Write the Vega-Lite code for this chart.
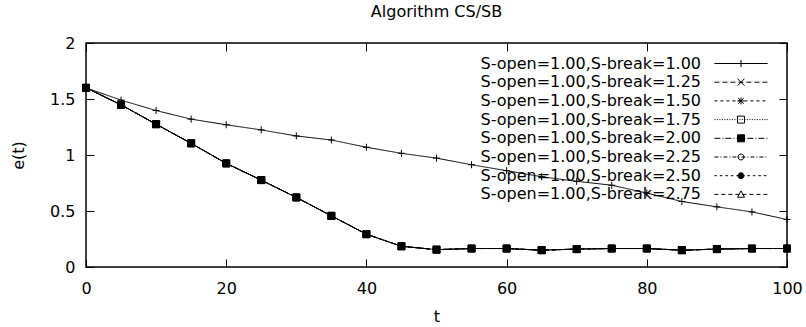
{
  "$schema": "https://vega.github.io/schema/vega-lite/v6.json",
  "width": 701,
  "height": 224,
  "autosize": {"type": "none"},
  "padding": {"left": 86, "top": 43, "right": 19, "bottom": 60},
  "background": "white",
  "title": {"text": "Algorithm CS/SB", "fontSize": 16, "fontWeight": "normal", "font": "DejaVu Sans", "baseline": "alphabetic", "offset": 2, "color": "black"},
  "config": {
    "view": {"stroke": "black", "strokeWidth": 1.5},
    "font": "DejaVu Sans",
    "axis": {"domain": false, "grid": false, "minExtent": 0, "tickColor": "black", "tickSize": -8, "tickWidth": 1, "labelColor": "black", "labelFont": "DejaVu Sans", "labelFontSize": 16, "titleFont": "DejaVu Sans", "titleFontSize": 16, "titleFontWeight": "normal", "titleColor": "black", "labelFlush": false, "labelOverlap": false}
  },
  "data": {"values": [
    {"t":0,"e":1.6,"s":"1.00"},{"t":5,"e":1.49,"s":"1.00"},{"t":10,"e":1.397,"s":"1.00"},{"t":15,"e":1.32,"s":"1.00"},{"t":20,"e":1.27,"s":"1.00"},{"t":25,"e":1.224,"s":"1.00"},{"t":30,"e":1.17,"s":"1.00"},{"t":35,"e":1.134,"s":"1.00"},{"t":40,"e":1.069,"s":"1.00"},{"t":45,"e":1.015,"s":"1.00"},{"t":50,"e":0.972,"s":"1.00"},{"t":55,"e":0.913,"s":"1.00"},{"t":60,"e":0.86,"s":"1.00"},{"t":65,"e":0.806,"s":"1.00"},{"t":70,"e":0.765,"s":"1.00"},{"t":75,"e":0.73,"s":"1.00"},{"t":80,"e":0.66,"s":"1.00"},{"t":85,"e":0.585,"s":"1.00"},{"t":90,"e":0.537,"s":"1.00"},{"t":95,"e":0.492,"s":"1.00"},{"t":100,"e":0.424,"s":"1.00"},
    {"t":0,"e":1.6,"s":"1.25"},{"t":5,"e":1.448,"s":"1.25"},{"t":10,"e":1.275,"s":"1.25"},{"t":15,"e":1.104,"s":"1.25"},{"t":20,"e":0.925,"s":"1.25"},{"t":25,"e":0.776,"s":"1.25"},{"t":30,"e":0.621,"s":"1.25"},{"t":35,"e":0.457,"s":"1.25"},{"t":40,"e":0.293,"s":"1.25"},{"t":45,"e":0.185,"s":"1.25"},{"t":50,"e":0.155,"s":"1.25"},{"t":55,"e":0.165,"s":"1.25"},{"t":60,"e":0.165,"s":"1.25"},{"t":65,"e":0.15,"s":"1.25"},{"t":70,"e":0.16,"s":"1.25"},{"t":75,"e":0.165,"s":"1.25"},{"t":80,"e":0.165,"s":"1.25"},{"t":85,"e":0.15,"s":"1.25"},{"t":90,"e":0.16,"s":"1.25"},{"t":95,"e":0.165,"s":"1.25"},{"t":100,"e":0.165,"s":"1.25"},
    {"t":0,"e":1.6,"s":"1.50"},{"t":5,"e":1.448,"s":"1.50"},{"t":10,"e":1.275,"s":"1.50"},{"t":15,"e":1.104,"s":"1.50"},{"t":20,"e":0.925,"s":"1.50"},{"t":25,"e":0.776,"s":"1.50"},{"t":30,"e":0.621,"s":"1.50"},{"t":35,"e":0.457,"s":"1.50"},{"t":40,"e":0.293,"s":"1.50"},{"t":45,"e":0.185,"s":"1.50"},{"t":50,"e":0.155,"s":"1.50"},{"t":55,"e":0.165,"s":"1.50"},{"t":60,"e":0.165,"s":"1.50"},{"t":65,"e":0.15,"s":"1.50"},{"t":70,"e":0.16,"s":"1.50"},{"t":75,"e":0.165,"s":"1.50"},{"t":80,"e":0.165,"s":"1.50"},{"t":85,"e":0.15,"s":"1.50"},{"t":90,"e":0.16,"s":"1.50"},{"t":95,"e":0.165,"s":"1.50"},{"t":100,"e":0.165,"s":"1.50"},
    {"t":0,"e":1.6,"s":"1.75"},{"t":5,"e":1.448,"s":"1.75"},{"t":10,"e":1.275,"s":"1.75"},{"t":15,"e":1.104,"s":"1.75"},{"t":20,"e":0.925,"s":"1.75"},{"t":25,"e":0.776,"s":"1.75"},{"t":30,"e":0.621,"s":"1.75"},{"t":35,"e":0.457,"s":"1.75"},{"t":40,"e":0.293,"s":"1.75"},{"t":45,"e":0.185,"s":"1.75"},{"t":50,"e":0.155,"s":"1.75"},{"t":55,"e":0.165,"s":"1.75"},{"t":60,"e":0.165,"s":"1.75"},{"t":65,"e":0.15,"s":"1.75"},{"t":70,"e":0.16,"s":"1.75"},{"t":75,"e":0.165,"s":"1.75"},{"t":80,"e":0.165,"s":"1.75"},{"t":85,"e":0.15,"s":"1.75"},{"t":90,"e":0.16,"s":"1.75"},{"t":95,"e":0.165,"s":"1.75"},{"t":100,"e":0.165,"s":"1.75"},
    {"t":0,"e":1.6,"s":"2.00"},{"t":5,"e":1.448,"s":"2.00"},{"t":10,"e":1.275,"s":"2.00"},{"t":15,"e":1.104,"s":"2.00"},{"t":20,"e":0.925,"s":"2.00"},{"t":25,"e":0.776,"s":"2.00"},{"t":30,"e":0.621,"s":"2.00"},{"t":35,"e":0.457,"s":"2.00"},{"t":40,"e":0.293,"s":"2.00"},{"t":45,"e":0.185,"s":"2.00"},{"t":50,"e":0.155,"s":"2.00"},{"t":55,"e":0.165,"s":"2.00"},{"t":60,"e":0.165,"s":"2.00"},{"t":65,"e":0.15,"s":"2.00"},{"t":70,"e":0.16,"s":"2.00"},{"t":75,"e":0.165,"s":"2.00"},{"t":80,"e":0.165,"s":"2.00"},{"t":85,"e":0.15,"s":"2.00"},{"t":90,"e":0.16,"s":"2.00"},{"t":95,"e":0.165,"s":"2.00"},{"t":100,"e":0.165,"s":"2.00"},
    {"t":0,"e":1.6,"s":"2.25"},{"t":5,"e":1.448,"s":"2.25"},{"t":10,"e":1.275,"s":"2.25"},{"t":15,"e":1.104,"s":"2.25"},{"t":20,"e":0.925,"s":"2.25"},{"t":25,"e":0.776,"s":"2.25"},{"t":30,"e":0.621,"s":"2.25"},{"t":35,"e":0.457,"s":"2.25"},{"t":40,"e":0.293,"s":"2.25"},{"t":45,"e":0.185,"s":"2.25"},{"t":50,"e":0.155,"s":"2.25"},{"t":55,"e":0.165,"s":"2.25"},{"t":60,"e":0.165,"s":"2.25"},{"t":65,"e":0.15,"s":"2.25"},{"t":70,"e":0.16,"s":"2.25"},{"t":75,"e":0.165,"s":"2.25"},{"t":80,"e":0.165,"s":"2.25"},{"t":85,"e":0.15,"s":"2.25"},{"t":90,"e":0.16,"s":"2.25"},{"t":95,"e":0.165,"s":"2.25"},{"t":100,"e":0.165,"s":"2.25"},
    {"t":0,"e":1.6,"s":"2.50"},{"t":5,"e":1.448,"s":"2.50"},{"t":10,"e":1.275,"s":"2.50"},{"t":15,"e":1.104,"s":"2.50"},{"t":20,"e":0.925,"s":"2.50"},{"t":25,"e":0.776,"s":"2.50"},{"t":30,"e":0.621,"s":"2.50"},{"t":35,"e":0.457,"s":"2.50"},{"t":40,"e":0.293,"s":"2.50"},{"t":45,"e":0.185,"s":"2.50"},{"t":50,"e":0.155,"s":"2.50"},{"t":55,"e":0.165,"s":"2.50"},{"t":60,"e":0.165,"s":"2.50"},{"t":65,"e":0.15,"s":"2.50"},{"t":70,"e":0.16,"s":"2.50"},{"t":75,"e":0.165,"s":"2.50"},{"t":80,"e":0.165,"s":"2.50"},{"t":85,"e":0.15,"s":"2.50"},{"t":90,"e":0.16,"s":"2.50"},{"t":95,"e":0.165,"s":"2.50"},{"t":100,"e":0.165,"s":"2.50"},
    {"t":0,"e":1.6,"s":"2.75"},{"t":5,"e":1.448,"s":"2.75"},{"t":10,"e":1.275,"s":"2.75"},{"t":15,"e":1.104,"s":"2.75"},{"t":20,"e":0.925,"s":"2.75"},{"t":25,"e":0.776,"s":"2.75"},{"t":30,"e":0.621,"s":"2.75"},{"t":35,"e":0.457,"s":"2.75"},{"t":40,"e":0.293,"s":"2.75"},{"t":45,"e":0.185,"s":"2.75"},{"t":50,"e":0.155,"s":"2.75"},{"t":55,"e":0.165,"s":"2.75"},{"t":60,"e":0.165,"s":"2.75"},{"t":65,"e":0.15,"s":"2.75"},{"t":70,"e":0.16,"s":"2.75"},{"t":75,"e":0.165,"s":"2.75"},{"t":80,"e":0.165,"s":"2.75"},{"t":85,"e":0.15,"s":"2.75"},{"t":90,"e":0.16,"s":"2.75"},{"t":95,"e":0.165,"s":"2.75"},{"t":100,"e":0.165,"s":"2.75"}
  ]},
  "layer": [
    {
      "layer": [
        {
          "mark": {"type": "line", "color": "black", "strokeWidth": 1},
          "encoding": {
            "x": {"field": "t", "type": "quantitative", "scale": {"domain": [0, 100], "nice": false, "zero": false}, "axis": {"orient": "bottom", "title": "t", "values": [0, 20, 40, 60, 80, 100], "labelPadding": 21, "titlePadding": 12}},
            "y": {"field": "e", "type": "quantitative", "scale": {"domain": [0, 2], "nice": false}, "axis": {"orient": "left", "title": "e(t)", "values": [0, 0.5, 1, 1.5, 2], "format": "~g", "labelPadding": 19, "titlePadding": 26, "titleBaseline": "alphabetic"}},
            "strokeDash": {"field": "s", "type": "nominal", "legend": null, "scale": {"range": [[1, 0], [5, 3], [3, 3], [1, 1.5], [6, 2, 1, 2], [4, 2, 1, 2], [2.5, 3], [4, 3]]}}
          }
        },
        {
          "mark": {"type": "point", "filled": true, "stroke": "black", "strokeWidth": 1, "size": 49, "opacity": 1},
          "encoding": {
            "x": {"field": "t", "type": "quantitative"},
            "y": {"field": "e", "type": "quantitative"},
            "fill": {"field": "s", "type": "nominal", "legend": null, "scale": {"range": ["transparent", "transparent", "transparent", "transparent", "black", "transparent", "black", "transparent"]}},
            "shape": {
              "field": "s", "type": "nominal", "legend": null,
              "scale": {"range": ["M-1,0H1M0,-1V1", "M-1,-1L1,1M-1,1L1,-1", "M-1,0H1M0,-1V1M-0.8,-0.8L0.8,0.8M-0.8,0.8L0.8,-0.8", "M-1,-1H1V1H-1Z", "M-1,-1H1V1H-1Z", "M0.85,0A0.85,0.85,0,1,1,-0.85,0A0.85,0.85,0,1,1,0.85,0Z", "M0.85,0A0.85,0.85,0,1,1,-0.85,0A0.85,0.85,0,1,1,0.85,0Z", "M0,-1L1,0.8H-1Z"]}
            }
          }
        },
        {
          "mark": {"type": "point", "filled": false, "color": "black", "opacity": 0},
          "encoding": {
            "x": {"field": "t", "type": "quantitative"},
            "y": {"field": "e", "type": "quantitative"},
            "shape": {
              "field": "s", "type": "nominal",
              "scale": {"range": [
                "M-7.6,0H7.6M-1,0H1M0,-1V1",
                "M-7.6,0h1.43M-5.31,0h1.43M-3.03,0h1.43M-0.74,0h1.43M1.54,0h1.43M3.83,0h1.43M6.11,0h1.43M-1,-1L1,1M-1,1L1,-1",
                "M-7.6,0h0.86M-5.89,0h0.86M-4.17,0h0.86M-2.46,0h0.86M-0.74,0h0.86M0.97,0h0.86M2.69,0h0.86M4.4,0h0.86M6.11,0h0.86M-1,0H1M0,-1V1M-0.8,-0.8L0.8,0.8M-0.8,0.8L0.8,-0.8",
                "M-7.6,0h0.29M-6.89,0h0.29M-6.17,0h0.29M-5.46,0h0.29M-4.74,0h0.29M-4.03,0h0.29M-3.31,0h0.29M-2.6,0h0.29M-1.89,0h0.29M-1.17,0h0.29M-0.46,0h0.29M0.26,0h0.29M0.97,0h0.29M1.69,0h0.29M2.4,0h0.29M3.11,0h0.29M3.83,0h0.29M4.54,0h0.29M5.26,0h0.29M5.97,0h0.29M6.69,0h0.29M7.31,0h0.29M-1,-1H1V1H-1Z",
                "M-7.6,0h1.71M-4.46,0h1.71M-1.31,0h1.71M1.83,0h1.71M4.97,0h1.71M-5.31,0h0.29M-2.17,0h0.29M0.97,0h0.29M4.11,0h0.29M7.26,0h0.29M-1,-1H1V1H-1Z",
                "M-7.6,0h1.14M-5.03,0h1.14M-2.46,0h1.14M0.11,0h1.14M2.69,0h1.14M5.26,0h1.14M-5.89,0h0.29M-3.31,0h0.29M-0.74,0h0.29M1.83,0h0.29M4.4,0h0.29M6.97,0h0.29M0.85,0A0.85,0.85,0,1,1,-0.85,0A0.85,0.85,0,1,1,0.85,0Z",
                "M-7.6,0h0.71M-6.03,0h0.71M-4.46,0h0.71M-2.89,0h0.71M-1.31,0h0.71M0.26,0h0.71M1.83,0h0.71M3.4,0h0.71M4.97,0h0.71M6.54,0h0.71M0.85,0A0.85,0.85,0,1,1,-0.85,0A0.85,0.85,0,1,1,0.85,0Z",
                "M-7.6,0h1.14M-5.6,0h1.14M-3.6,0h1.14M-1.6,0h1.14M0.4,0h1.14M2.4,0h1.14M4.4,0h1.14M6.4,0h1.14M0,-1L1,0.8H-1Z"
              ]},
              "legend": {
                "orient": "none", "legendX": 647, "legendY": 12.5, "title": null, "padding": 0,
                "symbolSize": 49, "symbolStrokeWidth": 1, "symbolStrokeColor": "black",
                "labelAlign": "right", "labelOffset": -48, "labelFontSize": 16, "labelFont": "DejaVu Sans", "labelColor": "black", "labelLimit": 0,
                "rowPadding": 2.7,
                "labelExpr": "'S-open=1.00,S-break=' + datum.label",
                "encoding": {"symbols": {
                  "fill": {"value": {"expr": "datum.index == 4 || datum.index == 6 ? 'black' : 'transparent'"}},
                  "stroke": {"value": "black"},
                  "strokeWidth": {"value": 1},
                  "strokeOpacity": {"value": 1},
                  "opacity": {"value": 1}
                }}
              }
            }
          }
        }
      ],
      "resolve": {"scale": {"shape": "independent"}}
    },
    {
      "mark": {"type": "point", "opacity": 0},
      "encoding": {
        "x": {"field": "t", "type": "quantitative", "scale": {"domain": [0, 100], "nice": false, "zero": false}, "axis": {"orient": "top", "title": null, "labels": false, "values": [0, 20, 40, 60, 80, 100]}},
        "y": {"field": "e", "type": "quantitative", "scale": {"domain": [0, 2], "nice": false}, "axis": {"orient": "right", "title": null, "labels": false, "values": [0, 0.5, 1, 1.5, 2]}}
      }
    }
  ],
  "resolve": {"axis": {"x": "independent", "y": "independent"}}
}
